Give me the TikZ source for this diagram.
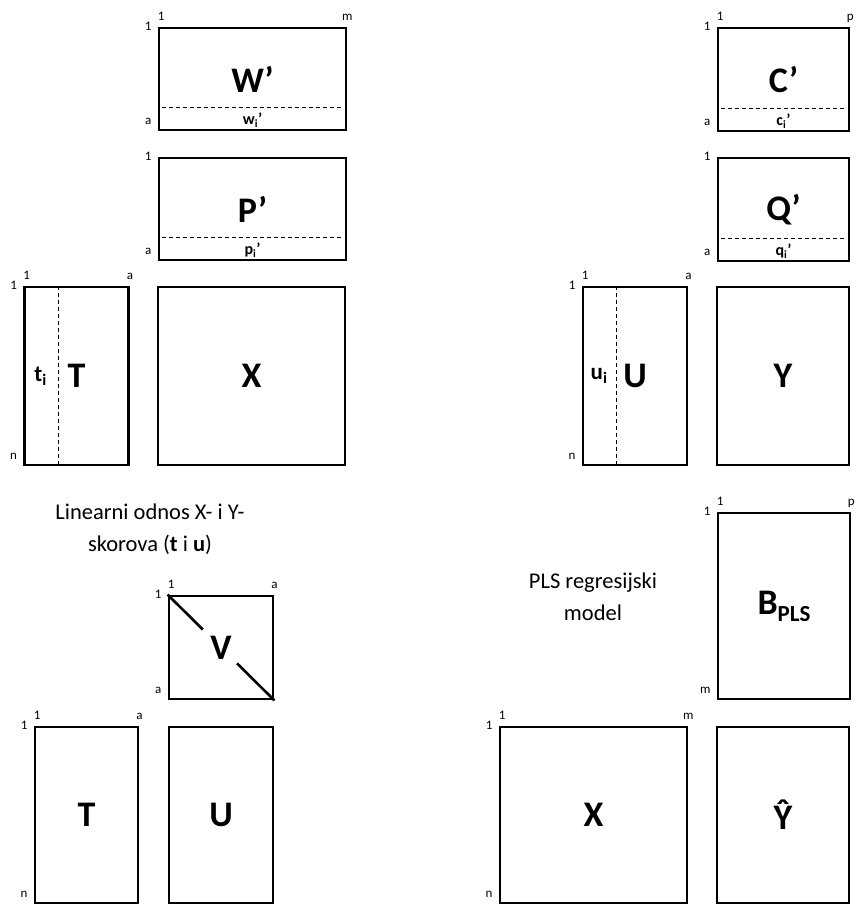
\documentclass[tikz,border=0pt]{standalone}
\usepackage{fontspec}
\setmainfont{Carlito}
\usetikzlibrary{calc}

\begin{document}
\begin{tikzpicture}[x = 1pt, y = -1pt,
	mat/.style = {draw, rectangle, line width = 2.8pt, inner sep = 0pt, font = \fontsize{36}{36}\selectfont\bfseries},
	idx/.style = {inner sep = 0pt, font = \fontsize{13}{13}\selectfont},
	vec/.style = {inner sep = 0pt, font = \fontsize{16}{16}\selectfont\bfseries},
	col/.style = {inner sep = 0pt, font = \fontsize{23}{23}\selectfont\bfseries},
	cut/.style = {line width = 0.8pt, dash pattern = on 4pt off 3pt},
	diag/.style = {line width = 2.6pt},
	note/.style = {align = center, font = \fontsize{22.5}{32}\selectfont}]

\useasboundingbox (0, 0) rectangle (857, 904);

% X side
\node[mat, minimum width = 187pt, minimum height = 102pt] (W) at (252.5, 79) {W'};
\node[mat, minimum width = 187pt, minimum height = 102pt] (P) at (252.5, 209) {P'};
\node[mat, minimum width = 104pt, minimum height = 178pt] (T) at (76.5, 376) {T};
\node[mat, minimum width = 187pt, minimum height = 178pt] (X) at (251.5, 376) {X};

% Y side
\node[mat, minimum width = 131pt, minimum height = 103pt] (C) at (783.5, 79.5) {C'};
\node[mat, minimum width = 131pt, minimum height = 103pt] (Q) at (783.5, 209.5) {Q'};
\node[mat, minimum width = 104pt, minimum height = 178pt] (U) at (635, 376) {U};
\node[mat, minimum width = 132pt, minimum height = 178pt] (Y) at (783, 376) {Y};

% inner relation
\node[mat, minimum width = 104pt, minimum height = 103pt] (V) at (221, 647.5) {V};
\node[mat, minimum width = 103pt, minimum height = 176pt] (T2) at (86.5, 815) {T};
\node[mat, minimum width = 104pt, minimum height = 176pt] (U2) at (221, 815) {U};

% regression model
\node[mat, minimum width = 132pt, minimum height = 186pt] (B) at (784, 606) {B\raisebox{-7pt}{\fontsize{23}{23}\selectfont PLS}};
\node[mat, minimum width = 187pt, minimum height = 176pt] (X2) at (593.5, 815) {X};
\node[mat, minimum width = 132pt, minimum height = 176pt] (Yh) at (783, 815) {Ŷ};

\node[note] (rel) at (150, 529) {Linearni odnos X- i Y-\\skorova (\textbf{t} i \textbf{u})};
\node[note] (pls) at (593, 597) {PLS regresijski\\model};

% loading rows
\foreach \n/\v in {W/w, P/p, C/c, Q/q} {
	\draw[cut] ([xshift = 4pt, yshift = 24pt]\n.south west) -- ([xshift = -4pt, yshift = 24pt]\n.south east);
	\node[vec] (\n row) at ([yshift = 11pt]\n.south) {\v\textsubscript{i}'};
}

% score columns
\foreach \n/\v in {T/t, U/u} {
	\draw[cut] ([xshift = 35pt]\n.north west) -- ([xshift = 35pt]\n.south west);
	\node[col] (\n col) at ([xshift = 17.5pt]\n.west) {\v\textsubscript{i}};
}

\draw[diag] (V.north west) -- ($(V.north west)!0.33!(V.south east)$);
\draw[diag] ($(V.north west)!0.65!(V.south east)$) -- (V.south east);

% indices
\foreach \n/\c in {W/m, T/a, C/p, U/a, V/a, T2/a, B/p, X2/m} {
	\node[idx, anchor = base west] (\n first) at ([yshift = 6pt]\n.north west) {1};
	\node[idx, anchor = base] (\n last) at ([yshift = 6pt]\n.north east) {\c};
}
\foreach \n/\r in {W/a, P/a, T/n, C/a, Q/a, U/n, V/a, T2/n, B/m, X2/n} {
	\node[idx, anchor = east] (\n top) at ([xshift = -6pt]\n.north west) {1};
	\node[idx, anchor = base east] (\n bottom) at ([xshift = -6pt, yshift = 7pt]\n.south west) {\r};
}

\end{tikzpicture}
\end{document}
